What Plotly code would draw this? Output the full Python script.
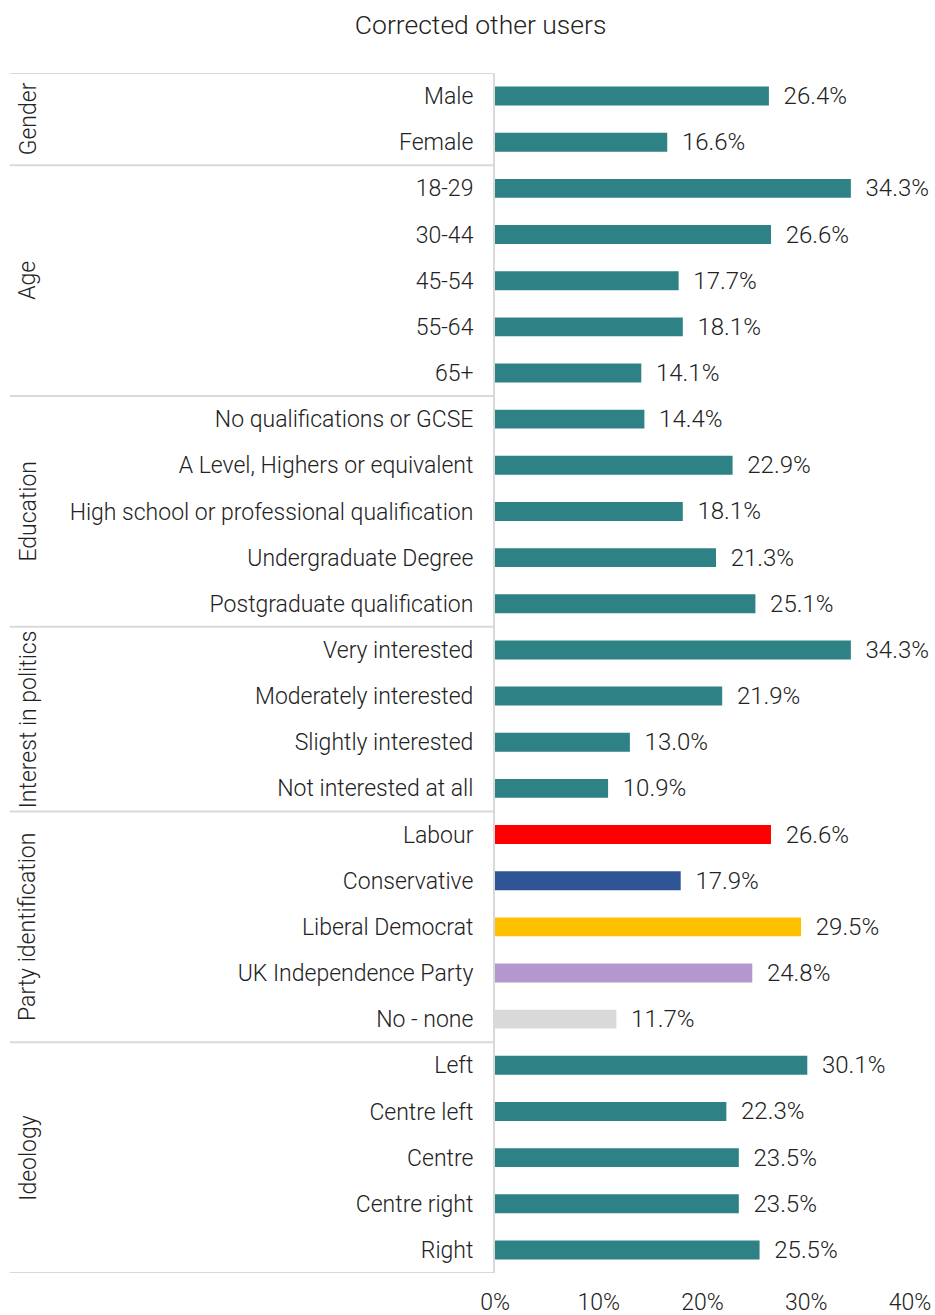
import plotly.graph_objects as go

groups = ["Gender", "Age", "Education", "Interest in politics", "Party identification", "Ideology"]
group_sizes = [2, 5, 5, 4, 5, 5]

categories = ["Male", "Female",
              "18-29", "30-44", "45-54", "55-64", "65+",
              "No qualifications or GCSE", "A Level, Highers or equivalent",
              "High school or professional qualification", "Undergraduate Degree",
              "Postgraduate qualification",
              "Very interested", "Moderately interested", "Slightly interested", "Not interested at all",
              "Labour", "Conservative", "Liberal Democrat", "UK Independence Party", "No - none",
              "Left", "Centre left", "Centre", "Centre right", "Right"]

values = [26.4, 16.6,
          34.3, 26.6, 17.7, 18.1, 14.1,
          14.4, 22.9, 18.1, 21.3, 25.1,
          34.3, 21.9, 13.0, 10.9,
          26.6, 17.9, 29.5, 24.8, 11.7,
          30.1, 22.3, 23.5, 23.5, 25.5]

teal = "#2E8184"
party_colors = ["#FF0000", "#2F5597", "#FFC000", "#B497CE", "#D9D9D9"]
colors = [teal] * 16 + party_colors + [teal] * 5

x_ticks = [0, 10, 20, 30, 40]

font_family = "Roboto"
text_color = "#222222"
line_color = "#D9D9D9"

idx = list(range(len(categories)))

fig = go.Figure()
fig.add_trace(go.Bar(
    x=values, y=idx, orientation="h",
    marker=dict(color=colors, line=dict(width=0)),
    text=[f"{v:.1f}%" for v in values],
    texttemplate="  %{text}",
    textposition="outside",
    constraintext="none",
    textfont=dict(size=24, color=text_color, family=font_family, weight=300),
    cliponaxis=False,
    showlegend=False,
))

# group separators and rotated group labels
shapes = []
annotations = []
start = 0
bounds = [-0.5]
for g, n in zip(groups, group_sizes):
    end = start + n
    bounds.append(end - 0.5)
    annotations.append(dict(
        text=g, xref="paper", yref="y", x=-1.125, y=(start + end - 1) / 2,
        textangle=-90, showarrow=False, xanchor="center", yanchor="middle",
        font=dict(size=23, color=text_color, family=font_family, weight=300),
    ))
    start = end

for b in bounds:
    shapes.append(dict(type="line", xref="paper", yref="y",
                       x0=-1.169, x1=0, y0=b, y1=b,
                       line=dict(color=line_color, width=2)))

fig.update_layout(
    width=935, height=1315,
    title=dict(text="Corrected other users", x=0.514, xanchor="center", y=0.981, yanchor="middle",
               font=dict(size=26.5, color=text_color, family=font_family, weight=300)),
    margin=dict(l=495, r=25, t=73, b=42),
    paper_bgcolor="white", plot_bgcolor="white",
    bargap=0.59,
    shapes=shapes, annotations=annotations,
    font=dict(family=font_family, size=23, color=text_color, weight=300),
)
fig.update_xaxes(range=[0, 40], tickvals=x_ticks, ticktext=[f"{t}%" for t in x_ticks],
                 showgrid=False, zeroline=False, showline=False, automargin=False,
                 ticks="", ticklabelstandoff=13,
                 tickfont=dict(size=23, family=font_family, weight=300))
fig.update_yaxes(range=[25.5, -0.5], tickvals=idx, ticktext=categories,
                 showgrid=False, zeroline=False, showline=True, linecolor=line_color, linewidth=2,
                 automargin=False, ticks="", ticklabelstandoff=15,
                 tickfont=dict(size=23, family=font_family, weight=300))

# drop the default page margin so the 935x1315 figure fills the window exactly
fig.write_html("out.html", config={"displayModeBar": False},
               post_script="document.body.style.margin='0';")
